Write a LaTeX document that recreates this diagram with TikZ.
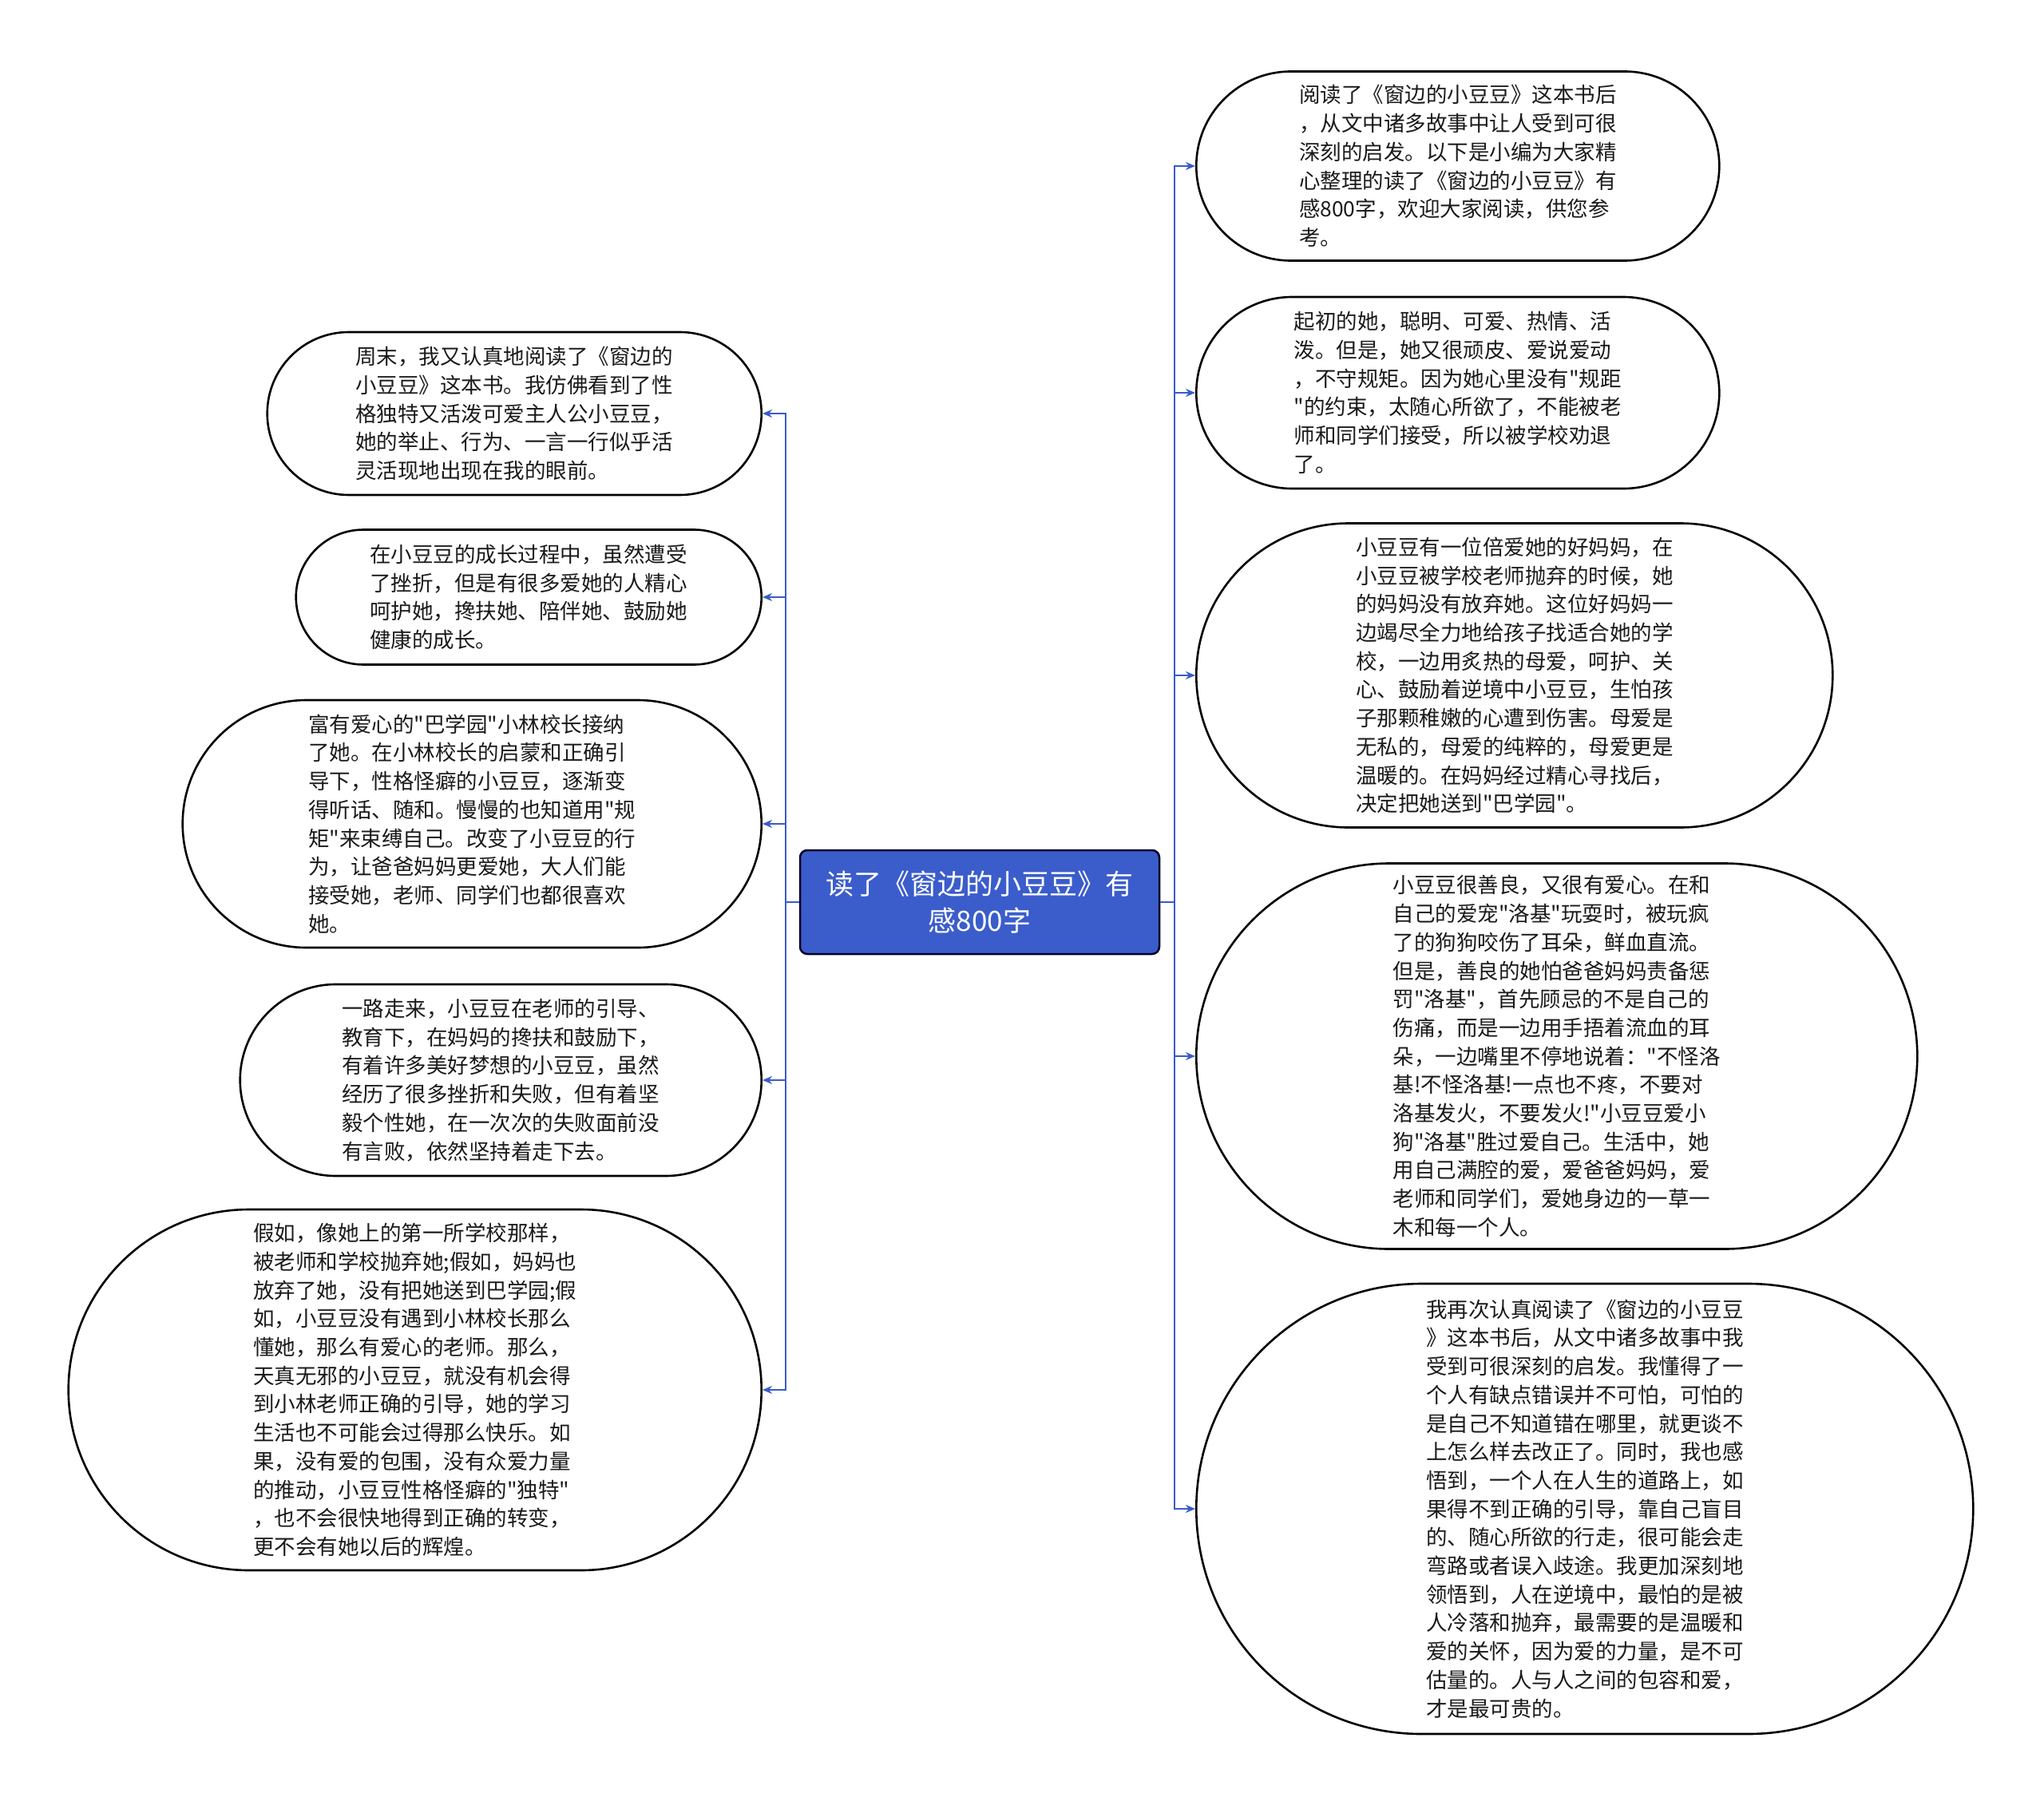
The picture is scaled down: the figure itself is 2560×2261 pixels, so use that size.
\documentclass[tikz,border=0pt]{standalone}
\usepackage{fontspec}
\setmainfont{Noto Sans CJK SC}[Ligatures=TeXOff]
\usetikzlibrary{shapes.misc,arrows.meta}
\definecolor{mainblue}{HTML}{3B5DCB}
\definecolor{linkblue}{HTML}{3A5BC8}
\definecolor{txt}{HTML}{1A1A1A}
\begin{document}
\begin{tikzpicture}[x=1pt,y=-1pt,
  topic/.style={rounded rectangle, draw=black, line width=2.6pt, fill=white,
    inner sep=0pt, align=left, text=txt,
    font=\fontsize{26.5pt}{35.7pt}\selectfont},
  lefttopic/.style={topic, anchor=east},
  righttopic/.style={topic, anchor=west},
  central/.style={rectangle, rounded corners=9pt, draw=black!85!blue, line width=2.5pt,
    fill=mainblue, text=white, align=center, inner sep=0pt,
    minimum width=450pt, minimum height=130pt,
    font=\fontsize{35pt}{46pt}\selectfont},
  link/.style={draw=linkblue, line width=2.4pt, -{Stealth[length=12pt,width=10pt]}}
]
\useasboundingbox (0,0) rectangle (2560,2261);
\fill[white] (0,0) rectangle (2560,2261);

\node[central] (c) at (1227,1130) {读了《窗边的小豆豆》有\\感800字};

% left
\node[lefttopic, minimum width=619pt, minimum height=204pt] (L1) at (955,518)
{周末，我又认真地阅读了《窗边的\\小豆豆》这本书。我仿佛看到了性\\格独特又活泼可爱主人公小豆豆，\\她的举止、行为、一言一行似乎活\\灵活现地出现在我的眼前。};
\node[lefttopic, minimum width=583pt, minimum height=169pt] (L2) at (955,748)
{在小豆豆的成长过程中，虽然遭受\\了挫折，但是有很多爱她的人精心\\呵护她，搀扶她、陪伴她、鼓励她\\健康的成长。};
\node[lefttopic, minimum width=725pt, minimum height=310pt] (L3) at (955,1032)
{富有爱心的"巴学园"小林校长接纳\\了她。在小林校长的启蒙和正确引\\导下，性格怪癖的小豆豆，逐渐变\\得听话、随和。慢慢的也知道用"规\\矩"来束缚自己。改变了小豆豆的行\\为，让爸爸妈妈更爱她，大人们能\\接受她，老师、同学们也都很喜欢\\她。};
\node[lefttopic, minimum width=653pt, minimum height=240pt] (L4) at (955,1353)
{一路走来，小豆豆在老师的引导、\\教育下，在妈妈的搀扶和鼓励下，\\有着许多美好梦想的小豆豆，虽然\\经历了很多挫折和失败，但有着坚\\毅个性她，在一次次的失败面前没\\有言败，依然坚持着走下去。};
\node[lefttopic, minimum width=868pt, minimum height=452pt] (L5) at (955,1741)
{假如，像她上的第一所学校那样，\\被老师和学校抛弃她;假如，妈妈也\\放弃了她，没有把她送到巴学园;假\\如，小豆豆没有遇到小林校长那么\\懂她，那么有爱心的老师。那么，\\天真无邪的小豆豆，就没有机会得\\到小林老师正确的引导，她的学习\\生活也不可能会过得那么快乐。如\\果，没有爱的包围，没有众爱力量\\的推动，小豆豆性格怪癖的"独特"\\，也不会很快地得到正确的转变，\\更不会有她以后的辉煌。};

% right
\node[righttopic, minimum width=655pt, minimum height=237pt] (R1) at (1497,208)
{阅读了《窗边的小豆豆》这本书后\\，从文中诸多故事中让人受到可很\\深刻的启发。以下是小编为大家精\\心整理的读了《窗边的小豆豆》有\\感800字，欢迎大家阅读，供您参\\考。};
\node[righttopic, minimum width=655pt, minimum height=240pt] (R2) at (1497,492)
{起初的她，聪明、可爱、热情、活\\泼。但是，她又很顽皮、爱说爱动\\，不守规矩。因为她心里没有"规距\\"的约束，太随心所欲了，不能被老\\师和同学们接受，所以被学校劝退\\了。};
\node[righttopic, minimum width=797pt, minimum height=381pt] (R3) at (1497,846)
{小豆豆有一位倍爱她的好妈妈，在\\小豆豆被学校老师抛弃的时候，她\\的妈妈没有放弃她。这位好妈妈一\\边竭尽全力地给孩子找适合她的学\\校，一边用炙热的母爱，呵护、关\\心、鼓励着逆境中小豆豆，生怕孩\\子那颗稚嫩的心遭到伤害。母爱是\\无私的，母爱的纯粹的，母爱更是\\温暖的。在妈妈经过精心寻找后，\\决定把她送到"巴学园"。};
\node[righttopic, minimum width=903pt, minimum height=483pt] (R4) at (1497,1323)
{小豆豆很善良，又很有爱心。在和\\自己的爱宠"洛基"玩耍时，被玩疯\\了的狗狗咬伤了耳朵，鲜血直流。\\但是，善良的她怕爸爸妈妈责备惩\\罚"洛基"，首先顾忌的不是自己的\\伤痛，而是一边用手捂着流血的耳\\朵，一边嘴里不停地说着："不怪洛\\基!不怪洛基!一点也不疼，不要对\\洛基发火，不要发火!"小豆豆爱小\\狗"洛基"胜过爱自己。生活中，她\\用自己满腔的爱，爱爸爸妈妈，爱\\老师和同学们，爱她身边的一草一\\木和每一个人。};
\node[righttopic, minimum width=973pt, minimum height=564pt] (R5) at (1497,1890)
{我再次认真阅读了《窗边的小豆豆\\》这本书后，从文中诸多故事中我\\受到可很深刻的启发。我懂得了一\\个人有缺点错误并不可怕，可怕的\\是自己不知道错在哪里，就更谈不\\上怎么样去改正了。同时，我也感\\悟到，一个人在人生的道路上，如\\果得不到正确的引导，靠自己盲目\\的、随心所欲的行走，很可能会走\\弯路或者误入歧途。我更加深刻地\\领悟到，人在逆境中，最怕的是被\\人冷落和抛弃，最需要的是温暖和\\爱的关怀，因为爱的力量，是不可\\估量的。人与人之间的包容和爱，\\才是最可贵的。};

% connectors
\foreach \n in {L1,L2,L3,L4,L5}
  \draw[link] (c.west) -- ++(-17,0) |- (\n.east);
\foreach \n in {R1,R2,R3,R4,R5}
  \draw[link] (c.east) -- ++(18,0) |- (\n.west);
\end{tikzpicture}
\end{document}
